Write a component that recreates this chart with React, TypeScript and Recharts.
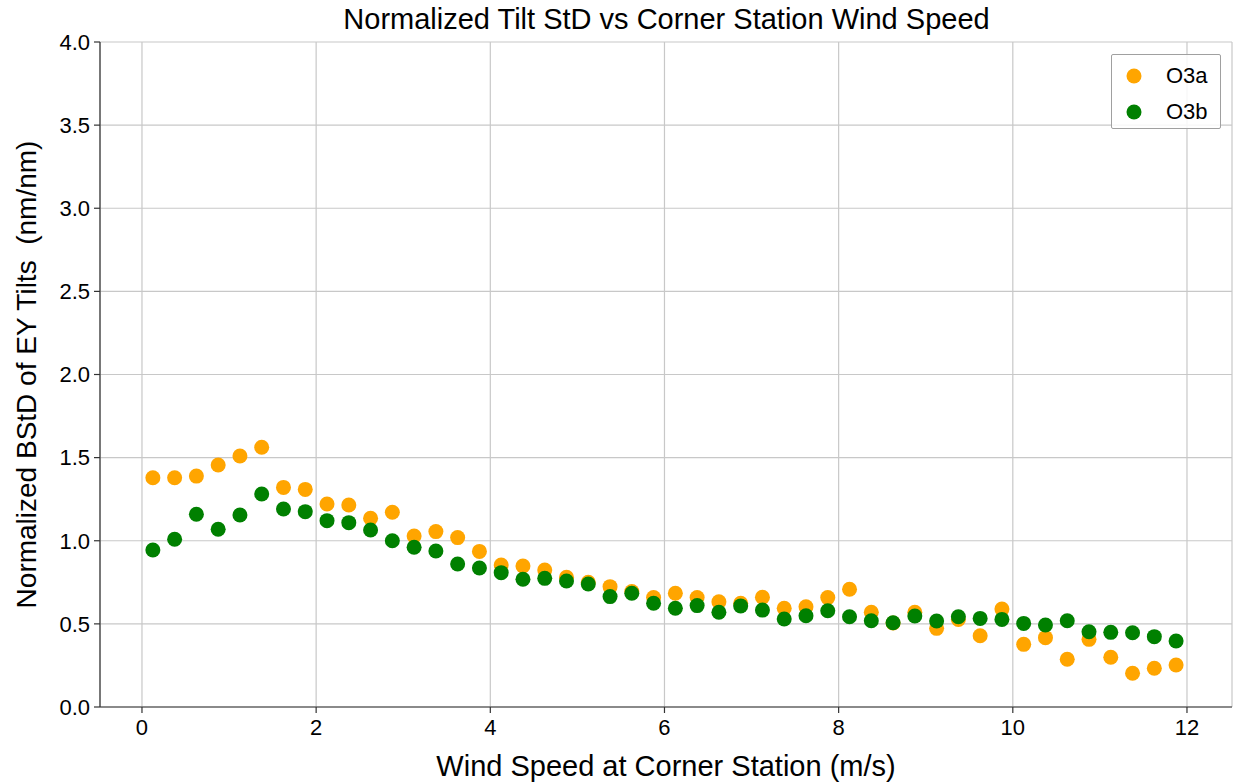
import { ScatterChart, Scatter, XAxis, YAxis, CartesianGrid } from 'recharts'

// bin centres of wind speed (m/s)
const windSpeed = [
  0.125, 0.375, 0.625, 0.875, 1.125, 1.375, 1.625, 1.875, 2.125, 2.375, 2.625, 2.875,
  3.125, 3.375, 3.625, 3.875, 4.125, 4.375, 4.625, 4.875, 5.125, 5.375, 5.625, 5.875,
  6.125, 6.375, 6.625, 6.875, 7.125, 7.375, 7.625, 7.875, 8.125, 8.375, 8.625, 8.875,
  9.125, 9.375, 9.625, 9.875, 10.125, 10.375, 10.625, 10.875, 11.125, 11.375, 11.625, 11.875,
]

const o3a = [
  1.379, 1.379, 1.389, 1.456, 1.51, 1.562, 1.321, 1.309, 1.221, 1.215, 1.135, 1.171,
  1.029, 1.055, 1.019, 0.936, 0.854, 0.848, 0.824, 0.78, 0.75, 0.724, 0.694, 0.658,
  0.684, 0.658, 0.633, 0.624, 0.66, 0.594, 0.603, 0.658, 0.708, 0.57, 0.505, 0.57,
  0.473, 0.527, 0.429, 0.589, 0.377, 0.417, 0.287, 0.407, 0.299, 0.203, 0.233, 0.253,
]

const o3b = [
  0.944, 1.009, 1.159, 1.069, 1.155, 1.281, 1.191, 1.175, 1.121, 1.109, 1.065, 1.0,
  0.961, 0.938, 0.86, 0.836, 0.808, 0.768, 0.774, 0.758, 0.74, 0.664, 0.684, 0.624,
  0.594, 0.61, 0.57, 0.608, 0.583, 0.529, 0.549, 0.579, 0.543, 0.519, 0.507, 0.547,
  0.517, 0.543, 0.533, 0.527, 0.503, 0.493, 0.519, 0.453, 0.449, 0.447, 0.423, 0.397,
]

const xTicks = [0, 2, 4, 6, 8, 10, 12]
const yTicks = [0, 0.5, 1, 1.5, 2, 2.5, 3, 3.5, 4]

const seriesA = windSpeed.map((x, i) => ({ x, y: o3a[i] }))
const seriesB = windSpeed.map((x, i) => ({ x, y: o3b[i] }))

const FONT = '"Liberation Sans", Arial, sans-serif'
const ORANGE = '#ffa500'
const GREEN = '#008000'

const dot = (color: string) => (p: any) => (
  <circle cx={p.cx} cy={p.cy} r={7.5} fill={color} />
)

function LegendBox() {
  const items = [
    { name: 'O3a', color: ORANGE },
    { name: 'O3b', color: GREEN },
  ]
  return (
    <div style={{
      position: 'absolute', left: 1111, top: 54, width: 108, height: 73,
      border: '1.5px solid #a0a0a0', background: 'rgba(255,255,255,0.85)',
      fontFamily: FONT, fontSize: 22, borderRadius: 2,
    }}>
      {items.map((it, i) => (
        <div key={it.name} style={{ position: 'absolute', left: 14, top: 9 + i * 36, display: 'flex', alignItems: 'center', height: 24 }}>
          <svg width={16} height={16} style={{ marginRight: 24 }}>
            <circle cx={8} cy={8} r={7.5} fill={it.color} />
          </svg>
          <span>{it.name}</span>
        </div>
      ))}
    </div>
  )
}

export default function App() {
  return (
    <div style={{ position: 'absolute', left: 0, top: 0, width: 1233, height: 784, background: '#fff' }}>
      <div style={{
        position: 'absolute', top: 3, left: 100, width: 1133, textAlign: 'center',
        fontFamily: FONT, fontSize: 29, color: '#000',
      }}>
        Normalized Tilt StD vs Corner Station Wind Speed
      </div>
      <ScatterChart width={1233} height={784} margin={{ top: 42, right: 1, bottom: 0, left: 0 }}
        style={{ fontFamily: FONT }}>
        <CartesianGrid stroke="#c8c8c8" strokeWidth={1.2} />
        <XAxis
          type="number" dataKey="x" domain={[-0.482, 12.517]} ticks={xTicks} allowDataOverflow
          stroke="#333" strokeWidth={1.2} tickSize={6} tick={{ fill: '#000', fontSize: 22, dy: 4 }}
          label={{ value: 'Wind Speed at Corner Station (m/s)', position: 'insideBottom', offset: 8, fill: '#000', fontSize: 29 }}
          height={77}
        />
        <YAxis
          type="number" dataKey="y" domain={[0, 4]} ticks={yTicks} allowDataOverflow
          tickFormatter={(v: number) => v.toFixed(1)}
          stroke="#333" strokeWidth={1.2} tickSize={6} tick={{ fill: '#000', fontSize: 22, dx: -2 }}
          width={100}
          label={{ value: 'Normalized BStD of EY Tilts\u00a0\u00a0(nm/nm)', angle: -90, position: 'insideLeft', offset: 26, fill: '#000', fontSize: 28, style: { textAnchor: 'middle' } }}
        />
        <Scatter name="O3a" data={seriesA} fill={ORANGE} shape={dot(ORANGE)} isAnimationActive={false} />
        <Scatter name="O3b" data={seriesB} fill={GREEN} shape={dot(GREEN)} isAnimationActive={false} />
      </ScatterChart>
      <LegendBox />
    </div>
  )
}
